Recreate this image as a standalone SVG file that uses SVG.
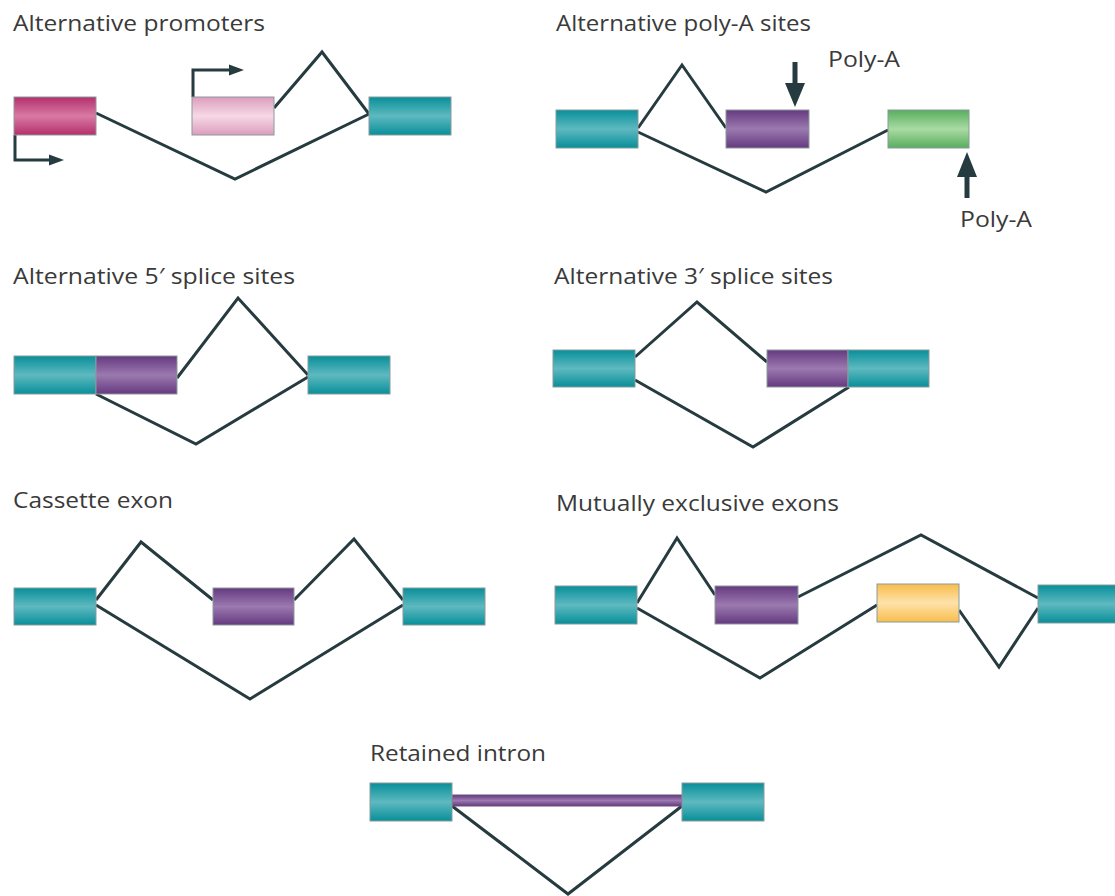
<svg xmlns="http://www.w3.org/2000/svg" width="1115" height="896" viewBox="0 0 1115 896">
<style>
.t{font-family:"Open Sans","Liberation Sans",sans-serif;font-size:22.5px;fill:#3a3a3a}
.ln{fill:none;stroke:#263b3f;stroke-width:3;stroke-linejoin:miter}
.bx{stroke:#8a9a9c;stroke-width:1}
.ar{fill:none;stroke:#263b3f;stroke-width:3}
.pa{fill:none;stroke:#263b3f;stroke-width:5}
.hd{fill:#263b3f}
</style>
<defs>
<linearGradient id="teal" x1="0" y1="0" x2="0" y2="1"><stop offset="0" stop-color="#078f99"/><stop offset="0.5" stop-color="#5fb9c0"/><stop offset="1" stop-color="#078f99"/></linearGradient>
<linearGradient id="purple" x1="0" y1="0" x2="0" y2="1"><stop offset="0" stop-color="#65397f"/><stop offset="0.5" stop-color="#9b7ab0"/><stop offset="1" stop-color="#65397f"/></linearGradient>
<linearGradient id="magenta" x1="0" y1="0" x2="0" y2="1"><stop offset="0" stop-color="#b52f6c"/><stop offset="0.5" stop-color="#d87aa3"/><stop offset="1" stop-color="#b52f6c"/></linearGradient>
<linearGradient id="pink" x1="0" y1="0" x2="0" y2="1"><stop offset="0" stop-color="#dc9dbd"/><stop offset="0.5" stop-color="#f6d8e6"/><stop offset="1" stop-color="#dc9dbd"/></linearGradient>
<linearGradient id="green" x1="0" y1="0" x2="0" y2="1"><stop offset="0" stop-color="#58ad5e"/><stop offset="0.5" stop-color="#a9dba3"/><stop offset="1" stop-color="#58ad5e"/></linearGradient>
<linearGradient id="yellow" x1="0" y1="0" x2="0" y2="1"><stop offset="0" stop-color="#f8bd4c"/><stop offset="0.5" stop-color="#fee2ab"/><stop offset="1" stop-color="#f8bd4c"/></linearGradient>
</defs>

<g id="titles">
<text class="t" x="13" y="31" textLength="252" lengthAdjust="spacingAndGlyphs">Alternative promoters</text>
<text class="t" x="556" y="31" textLength="255" lengthAdjust="spacingAndGlyphs">Alternative poly-A sites</text>
<text class="t" x="13" y="284" textLength="282" lengthAdjust="spacingAndGlyphs">Alternative 5′ splice sites</text>
<text class="t" x="554" y="284" textLength="279" lengthAdjust="spacingAndGlyphs">Alternative 3′ splice sites</text>
<text class="t" x="13" y="508" textLength="160" lengthAdjust="spacingAndGlyphs">Cassette exon</text>
<text class="t" x="556" y="511" textLength="283" lengthAdjust="spacingAndGlyphs">Mutually exclusive exons</text>
<text class="t" x="370" y="761" textLength="176" lengthAdjust="spacingAndGlyphs">Retained intron</text>
</g>

<g id="connectors">
<!-- panel 1 -->
<polyline class="ln" points="96,113 235,179 369,114"/>
<polyline class="ln" points="274,108 322,52 369,114"/>
<polyline class="ar" points="15,135 15,160 50,160"/>
<path class="hd" d="M64,160 L49,154.5 L49,165.5 Z"/>
<polyline class="ar" points="193,97 193,70 230,70"/>
<path class="hd" d="M244,70 L229,64.5 L229,75.5 Z"/>
<!-- panel 2 -->
<polyline class="ln" points="638,128 682,65 726,128"/>
<polyline class="ln" points="638,132 766,192 888,130"/>
<line class="pa" x1="795" y1="62" x2="795" y2="86"/>
<path class="hd" d="M795,107 L785,83 L805,83 Z"/>
<line class="pa" x1="967" y1="198" x2="967" y2="174"/>
<path class="hd" d="M967,152 L957,177 L977,177 Z"/>
<!-- panel 3 -->
<polyline class="ln" points="177,378 238,298 308,375"/>
<polyline class="ln" points="96,394 196,444 308,377"/>
<!-- panel 4 -->
<polyline class="ln" points="635,357 697,302 767,362"/>
<polyline class="ln" points="635,380 753,447 849,387"/>
<!-- panel 5 -->
<polyline class="ln" points="96,600 141,542 213,600"/>
<polyline class="ln" points="294,600 354,539 403,600"/>
<polyline class="ln" points="96,605 250,699 403,605"/>
<!-- panel 6 -->
<polyline class="ln" points="637,603 677,538 715,595"/>
<polyline class="ln" points="798,597 921,535 1038,598"/>
<polyline class="ln" points="637,608 760,678 877,605"/>
<polyline class="ln" points="959,610 999,667 1038,608"/>
<!-- panel 7 -->
<polyline class="ln" points="452,806 568,894 682,806"/>
</g>

<g id="labels">
<text class="t" x="828" y="67" textLength="72" lengthAdjust="spacingAndGlyphs">Poly-A</text>
<text class="t" x="960" y="227" textLength="72" lengthAdjust="spacingAndGlyphs">Poly-A</text>
</g>

<g id="p1-exon1"><rect class="bx" x="14" y="97" width="82" height="38" fill="url(#magenta)"/></g>
<g id="p1-exon2"><rect class="bx" x="192" y="97" width="82" height="38" fill="url(#pink)"/></g>
<g id="p1-exon3"><rect class="bx" x="369" y="97" width="82" height="38" fill="url(#teal)"/></g>

<g id="p2-exon1"><rect class="bx" x="556" y="110" width="82" height="38" fill="url(#teal)"/></g>
<g id="p2-exon2"><rect class="bx" x="726" y="110" width="83" height="38" fill="url(#purple)"/></g>
<g id="p2-exon3"><rect class="bx" x="888" y="110" width="81" height="38" fill="url(#green)"/></g>

<g id="p3-exon1"><rect class="bx" x="14" y="356" width="82" height="38" fill="url(#teal)"/></g>
<g id="p3-exon2"><rect class="bx" x="96" y="356" width="81" height="38" fill="url(#purple)"/></g>
<g id="p3-exon3"><rect class="bx" x="308" y="356" width="82" height="38" fill="url(#teal)"/></g>

<g id="p4-exon1"><rect class="bx" x="553" y="350" width="82" height="37" fill="url(#teal)"/></g>
<g id="p4-exon2"><rect class="bx" x="767" y="350" width="81" height="37" fill="url(#purple)"/></g>
<g id="p4-exon3"><rect class="bx" x="848" y="350" width="81" height="37" fill="url(#teal)"/></g>

<g id="p5-exon1"><rect class="bx" x="14" y="588" width="82" height="37" fill="url(#teal)"/></g>
<g id="p5-exon2"><rect class="bx" x="213" y="588" width="81" height="37" fill="url(#purple)"/></g>
<g id="p5-exon3"><rect class="bx" x="403" y="588" width="82" height="37" fill="url(#teal)"/></g>

<g id="p6-exon1"><rect class="bx" x="555" y="586" width="82" height="38" fill="url(#teal)"/></g>
<g id="p6-exon2"><rect class="bx" x="715" y="586" width="83" height="38" fill="url(#purple)"/></g>
<g id="p6-exon3"><rect class="bx" x="877" y="584" width="82" height="38" fill="url(#yellow)"/></g>
<g id="p6-exon4"><rect class="bx" x="1038" y="585" width="82" height="38" fill="url(#teal)"/></g>

<g id="p7-intron"><rect x="452" y="795" width="230" height="11" fill="url(#purple)" stroke="#6a5080" stroke-width="1"/></g>
<g id="p7-exon1"><rect class="bx" x="370" y="783" width="82" height="38" fill="url(#teal)"/></g>
<g id="p7-exon2"><rect class="bx" x="682" y="783" width="82" height="38" fill="url(#teal)"/></g>
</svg>
